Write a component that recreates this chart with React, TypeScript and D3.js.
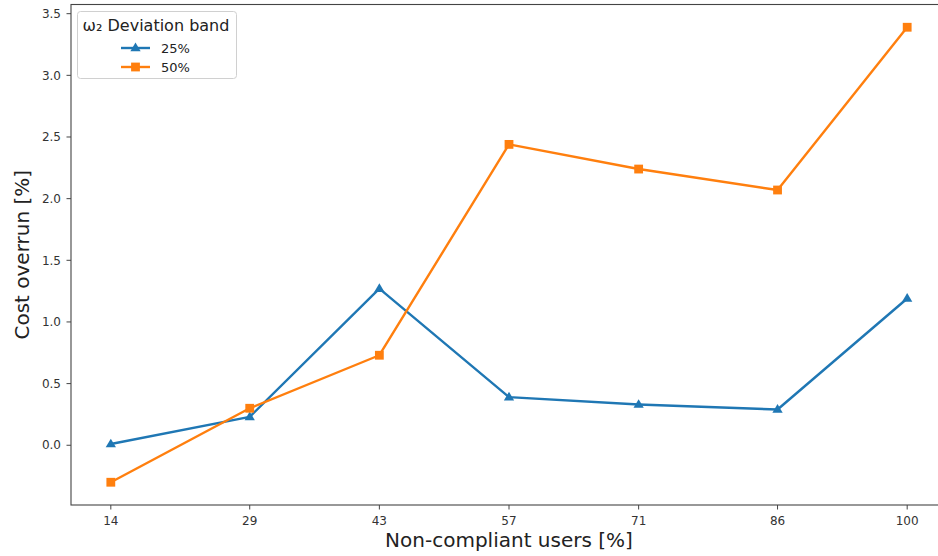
import React from "react";
import * as d3 from "d3";

const users = [14, 29, 43, 57, 71, 86, 100];
const band25 = [0.01, 0.23, 1.27, 0.39, 0.33, 0.29, 1.19];
const band50 = [-0.3, 0.3, 0.73, 2.44, 2.24, 2.07, 3.39];
const yTicks = [0, 0.5, 1, 1.5, 2, 2.5, 3, 3.5];
const seriesNames = ["25%", "50%"];

const W = 938;
const H = 556;
const FONT = "DejaVu Sans, sans-serif";
const BLUE = "#1f77b4";
const ORANGE = "#ff7f0e";

export default function App() {
  const left = 71;
  const right = 947;
  const top = 4.5;
  const bottom = 505;

  const xPad = (d3.max(users)! - d3.min(users)!) * 0.05;
  const x = d3
    .scaleLinear()
    .domain([d3.min(users)! - xPad, d3.max(users)! + xPad])
    .range([left, right]);

  const all = [...band25, ...band50];
  const yPad = (d3.max(all)! - d3.min(all)!) * 0.05;
  const y = d3
    .scaleLinear()
    .domain([d3.min(all)! - yPad, d3.max(all)! + yPad])
    .range([bottom, top]);

  const line = d3
    .line<number>()
    .x((_, i) => x(users[i]))
    .y((d) => y(d));

  const tri = (cx: number, cy: number, s: number) =>
    `M${cx},${cy - s} L${cx + s * 0.95},${cy + s * 0.6} L${cx - s * 0.95},${cy + s * 0.6} Z`;

  return (
    <svg
      width={W}
      height={H}
      style={{ position: "absolute", left: 0, top: 0, background: "#fff" }}
      fontFamily={FONT}
    >
      <rect x={0} y={0} width={W} height={H} fill="#fff" />

      {/* series lines */}
      <path d={line(band25) ?? ""} fill="none" stroke={BLUE} strokeWidth={2.4} strokeLinejoin="round" />
      <path d={line(band50) ?? ""} fill="none" stroke={ORANGE} strokeWidth={2.4} strokeLinejoin="round" />

      {/* markers */}
      {band25.map((v, i) => (
        <path key={`t${i}`} d={tri(x(users[i]), y(v), 5.4)} fill={BLUE} />
      ))}
      {band50.map((v, i) => (
        <rect key={`s${i}`} x={x(users[i]) - 4.4} y={y(v) - 4.4} width={8.8} height={8.8} fill={ORANGE} />
      ))}

      {/* frame */}
      <rect x={left} y={top} width={right - left} height={bottom - top} fill="none" stroke="#444" strokeWidth={1.1} />

      {/* x ticks */}
      {users.map((u) => (
        <g key={`xt${u}`} transform={`translate(${x(u)},${bottom})`}>
          <line y1={0} y2={4.5} stroke="#444" />
          <text y={20} textAnchor="middle" fontSize={12} fill="#333">
            {u}
          </text>
        </g>
      ))}

      {/* y ticks */}
      {yTicks.map((t) => (
        <g key={`yt${t}`} transform={`translate(${left},${y(t)})`}>
          <line x1={-4.5} x2={0} stroke="#444" />
          <text x={-10} dy="0.35em" textAnchor="end" fontSize={12} fill="#333">
            {t.toFixed(1)}
          </text>
        </g>
      ))}

      {/* axis titles */}
      <text x={(left + right) / 2} y={547} textAnchor="middle" fontSize={20} fill="#222">
        Non-compliant users [%]
      </text>
      <text
        transform={`translate(29,${(top + bottom) / 2}) rotate(-90)`}
        textAnchor="middle"
        fontSize={20}
        fill="#222"
      >
        Cost overrun [%]
      </text>

      {/* legend */}
      <g>
        <rect x={77.5} y={11.5} width={159} height={67} rx={3} fill="#fff" stroke="#d0d0d0" strokeWidth={1} />
        <text x={156} y={31} textAnchor="middle" fontSize={16} fill="#222">
          ω₂ Deviation band
        </text>
        {seriesNames.map((name, i) => {
          const ly = 48 + i * 19;
          const color = i === 0 ? BLUE : ORANGE;
          return (
            <g key={name}>
              <line x1={121} x2={150} y1={ly} y2={ly} stroke={color} strokeWidth={2.4} />
              {i === 0 ? (
                <path d={tri(135.5, ly, 5.4)} fill={color} />
              ) : (
                <rect x={131.1} y={ly - 4.4} width={8.8} height={8.8} fill={color} />
              )}
              <text x={161} y={ly} dy="0.35em" fontSize={13} fill="#222">
                {name}
              </text>
            </g>
          );
        })}
      </g>
    </svg>
  );
}
